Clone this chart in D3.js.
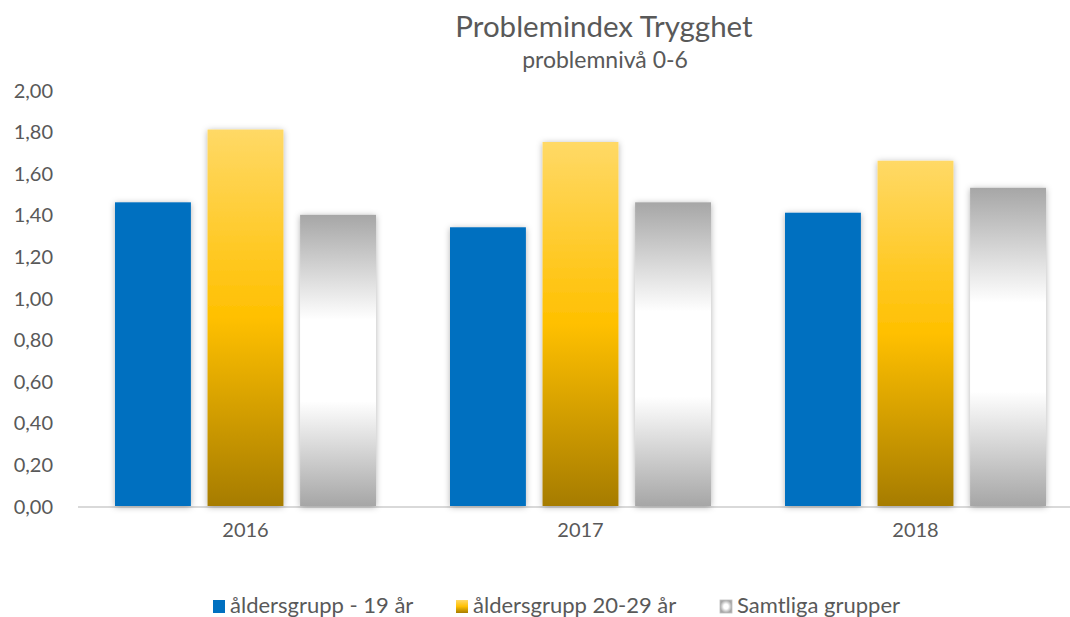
<!DOCTYPE html>
<html><head><meta charset="utf-8">
<script src="https://cdn.jsdelivr.net/npm/d3@7"></script>
<style>body{margin:0;background:#fff}svg{display:block}text{font-family:Lato,"Noto Sans",sans-serif;fill:#595959}</style>
</head><body>
<svg id="c" width="1070" height="617"></svg>
<script>
const years = ["2016","2017","2018"];
const seriesNames = ["åldersgrupp - 19 år","åldersgrupp 20-29 år","Samtliga grupper"];
const young = [1.46,1.34,1.41];
const mid = [1.81,1.75,1.66];
const all = [1.40,1.46,1.53];
const yTicks = [0,0.2,0.4,0.6,0.8,1.0,1.2,1.4,1.6,1.8,2.0];
const title = "Problemindex Trygghet";
const subtitle = "problemnivå 0-6";

const svg = d3.select("#c");
const defs = svg.append("defs");
const gy = defs.append("linearGradient").attr("id","gYel").attr("x1",0).attr("y1",0).attr("x2",0).attr("y2",1);
gy.append("stop").attr("offset","0%").attr("stop-color","#ffd966");
gy.append("stop").attr("offset","50%").attr("stop-color","#ffc000");
gy.append("stop").attr("offset","100%").attr("stop-color","#a67c00");
const gg = defs.append("radialGradient").attr("id","gGray").attr("cx","50%").attr("cy","50%").attr("r","75%");
gg.append("stop").attr("offset","0%").attr("stop-color","#ffffff");
gg.append("stop").attr("offset","25%").attr("stop-color","#ffffff");
gg.append("stop").attr("offset","66%").attr("stop-color","#a6a6a6");
gg.append("stop").attr("offset","100%").attr("stop-color","#a6a6a6");
const gl = defs.append("linearGradient").attr("id","gGrayV").attr("x1",0).attr("y1",0).attr("x2",0).attr("y2",1);
gl.append("stop").attr("offset","0%").attr("stop-color","#a6a6a6");
gl.append("stop").attr("offset","36%").attr("stop-color","#ffffff");
gl.append("stop").attr("offset","64%").attr("stop-color","#ffffff");
gl.append("stop").attr("offset","100%").attr("stop-color","#a6a6a6");
const f = defs.append("filter").attr("id","sh").attr("x","-20%").attr("y","-10%").attr("width","140%").attr("height","120%");
f.append("feDropShadow").attr("dx",0).attr("dy",1).attr("stdDeviation",3).attr("flood-color","#000").attr("flood-opacity",0.3);

const fills = ["#0070c0","url(#gYel)","url(#gGrayV)"];
const legendFills = ["#0070c0","url(#gYel)","url(#gGray)"];

const y = d3.scaleLinear().domain([0,2]).range([506,90]);
const x0 = d3.scaleBand().domain(years).range([78,1083]).paddingInner(0).paddingOuter(0);
const x1 = d3.scaleBand().domain([0,1,2]).range([37,298]).paddingInner(0.18);

svg.append("line").attr("x1",78).attr("x2",1070).attr("y1",y(0)+1).attr("y2",y(0)+1).attr("stroke","#d9d9d9").attr("stroke-width",2);

const yAxis = svg.append("g").attr("transform","translate(53,0)")
  .call(d3.axisLeft(y).tickValues(yTicks).tickSize(0).tickFormat(d=>d3.format(".2f")(d).replace(".",",")));
yAxis.select(".domain").remove();
yAxis.selectAll("text").attr("font-size",20).attr("x",0).attr("dy","0.35em").style("fill","#595959").style("font-family","Lato");

const xAxis = svg.append("g").attr("transform","translate(0,"+(y(0))+")")
  .call(d3.axisBottom(x0).tickSize(0));
xAxis.select(".domain").remove();
xAxis.selectAll("text").attr("font-size",20).attr("y",0).attr("dy","1.55em").style("fill","#595959").style("font-family","Lato");

const data = years.map((yr,i)=>({yr, vals:[young[i],mid[i],all[i]]}));
const groups = svg.append("g").selectAll("g").data(data).join("g")
  .attr("transform",d=>"translate("+x0(d.yr)+",0)");
groups.selectAll("rect").data(d=>d.vals.map((v,k)=>({v,k}))).join("rect")
  .attr("x",d=>x1(d.k)).attr("width",x1.bandwidth())
  .attr("y",d=>y(d.v)).attr("height",d=>y(0)-y(d.v))
  .attr("fill",d=>fills[d.k]).attr("filter","url(#sh)");

svg.append("text").attr("x",604).attr("y",37).attr("text-anchor","middle").attr("font-size",29.5).text(title);
svg.append("text").attr("x",605).attr("y",68).attr("text-anchor","middle").attr("font-size",23).text(subtitle);

const legX = [213,456,720];
const lg = svg.append("g").selectAll("g").data(seriesNames).join("g")
  .attr("transform",(d,i)=>"translate("+legX[i]+",600)");
lg.append("rect").attr("width",12).attr("height",13).attr("fill",(d,i)=>legendFills[i]).attr("stroke",(d,i)=>i==2?"#bfbfbf":"none").attr("stroke-width",0.8);
lg.append("text").attr("x",17).attr("y",13).attr("font-size",22).text(d=>d);
</script>
</body></html>
